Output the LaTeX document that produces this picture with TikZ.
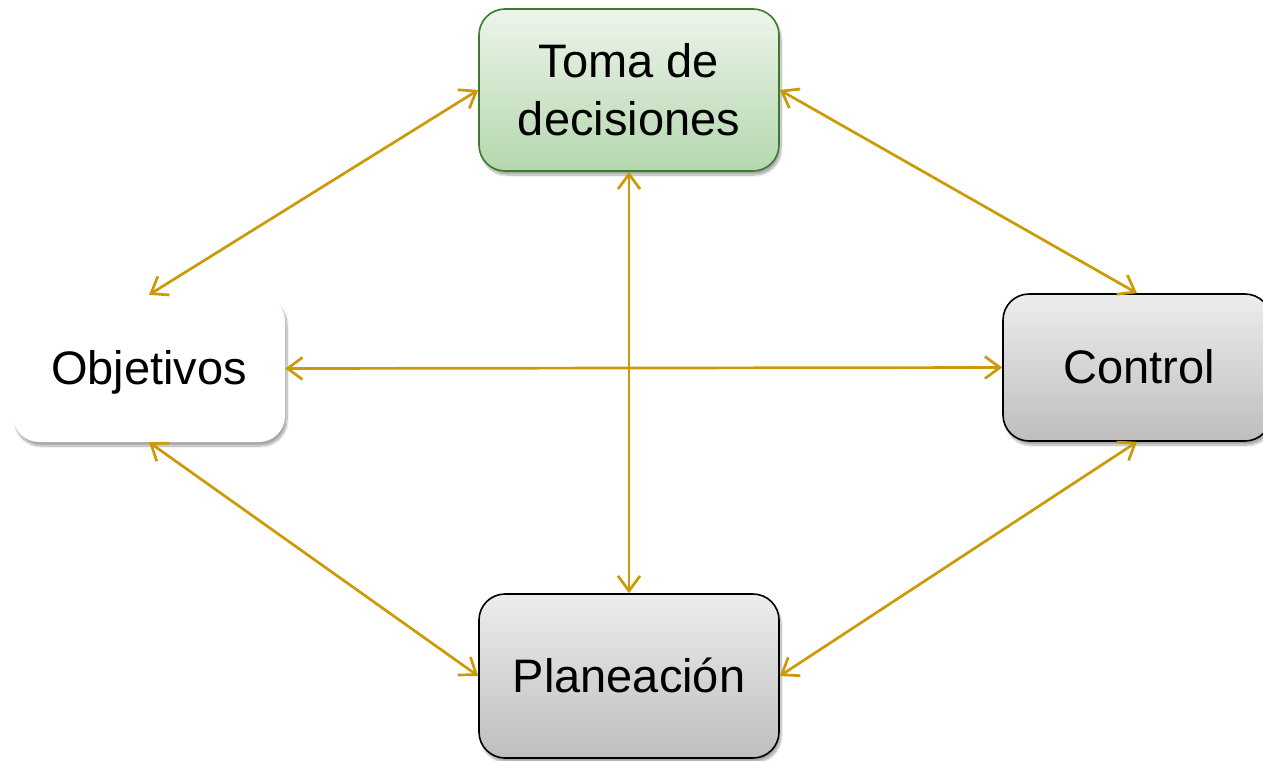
\documentclass[tikz,border=0pt]{standalone}
\usepackage{fontspec}
\setmainfont{Liberation Sans}
\usetikzlibrary{arrows.meta,shadows.blur,positioning}
\definecolor{gold}{HTML}{CC9A06}
\definecolor{tgreen}{HTML}{3C7A2C}
\definecolor{gtop}{HTML}{EDF5EA}
\definecolor{gbot}{HTML}{B4D7AE}
\definecolor{ytop}{HTML}{EDEDED}
\definecolor{ybot}{HTML}{BEBEBE}
\tikzset{
  box/.style={rounded corners=26pt, align=center, inner sep=0pt,
    font=\fontsize{47}{58}\selectfont,
    blur shadow={shadow xshift=2pt, shadow yshift=-4pt, shadow blur steps=10, shadow blur extra rounding=4pt, shadow opacity=35}},
  oneline/.style={text height=32pt, text depth=0pt},
  greenbox/.style={box, draw=tgreen, line width=1.6pt, top color=gtop, bottom color=gbot},
  graybox/.style={box, oneline, draw=black, line width=1.6pt, top color=ytop, bottom color=ybot},
  whitebox/.style={box, oneline, fill=white},
  arr/.style={draw=gold, line width=2.7pt,
    {Straight Barb[length=15pt,width=22pt]}-{Straight Barb[length=15pt,width=22pt]}}
}
\begin{document}
\begin{tikzpicture}[x=1pt,y=-1pt]
\useasboundingbox (0,0) rectangle (1263,760);
\node[greenbox, minimum width=300pt, minimum height=162pt] (toma) at (629,90) {Toma de\\decisiones};
\node[whitebox, minimum width=272pt, minimum height=147pt] (obj) at (149,368.5) {Objetivos};
\node[graybox, minimum width=268pt, minimum height=147pt] (ctrl) at (1137,367.5) {\hspace*{4pt}Control};
\node[graybox, minimum width=300pt, minimum height=164pt] (plan) at (629,676) {Planeación};
\draw[arr] (toma.west) -- (obj.north);
\draw[arr] (toma.east) -- (ctrl.north);
\draw[arr] (toma.south) -- (plan.north);
\draw[arr] (obj.east) -- (ctrl.west);
\draw[arr] (obj.south) -- (plan.west);
\draw[arr] (ctrl.south) -- (plan.east);
\end{tikzpicture}
\end{document}
